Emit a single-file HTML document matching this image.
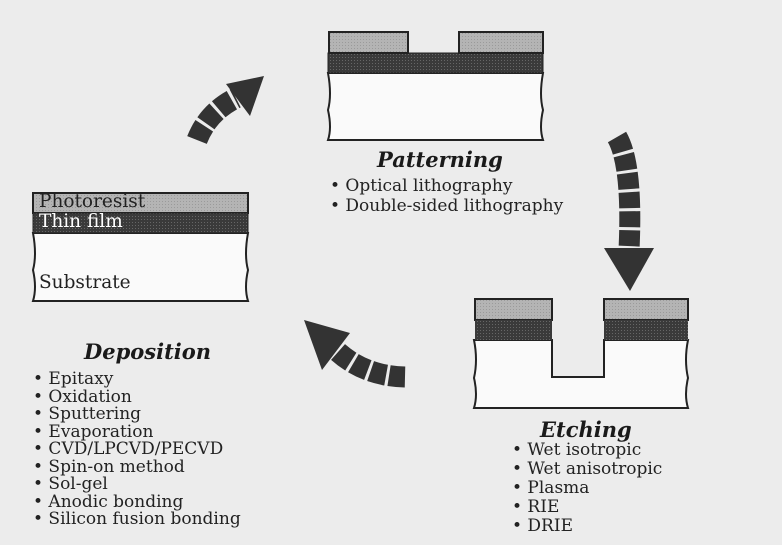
<!DOCTYPE html>
<html><head><style>
body{margin:0;width:782px;height:545px;background:#ececec;overflow:hidden;position:relative;font-family:"DejaVu Serif",serif;color:#222}
.t{position:absolute;white-space:nowrap}
.h{font-weight:bold;font-style:italic;font-size:21px;color:#1a1a1a}
.l{font-size:17px;line-height:17.5px}
</style></head><body>
<svg width="782" height="545" style="position:absolute;left:0;top:0">
<defs>
<pattern id="g" width="3" height="3" patternUnits="userSpaceOnUse"><rect width="3" height="3" fill="#b4b4b4"/><rect width="1" height="1" fill="#9a9a9a"/></pattern>
<pattern id="d" width="3" height="3" patternUnits="userSpaceOnUse"><rect width="3" height="3" fill="#3a3a3a"/><rect width="1" height="1" fill="#666"/></pattern>
</defs>
<path d="M33,233 L248,233 Q244,255 248,270 Q244,288 248,301 L33,301 Q37,288 33,270 Q37,255 33,233Z" fill="#fafafa" stroke="#222" stroke-width="2"/>
<rect x="33" y="193" width="215" height="20" fill="url(#g)" stroke="#222" stroke-width="2"/>
<rect x="33" y="213" width="215" height="20" fill="url(#d)" stroke="#222" stroke-width="1"/>
<path d="M328,73 L543,73 Q539,95 543,110 Q539,128 543,140 L328,140 Q332,128 328,110 Q332,95 328,73Z" fill="#fafafa" stroke="#222" stroke-width="2"/>
<rect x="328" y="53" width="215" height="20" fill="url(#d)" stroke="#222" stroke-width="1"/>
<rect x="329" y="32" width="79" height="21" fill="url(#g)" stroke="#222" stroke-width="2"/>
<rect x="459" y="32" width="84" height="21" fill="url(#g)" stroke="#222" stroke-width="2"/>
<path d="M474,340 L552,340 L552,377 L604,377 L604,340 L688,340 Q684,360 688,378 Q684,395 688,408 L474,408 Q478,395 474,378 Q478,360 474,340Z" fill="#fafafa" stroke="#222" stroke-width="2"/>
<rect x="475" y="299" width="77" height="21" fill="url(#g)" stroke="#222" stroke-width="2"/>
<rect x="475" y="320" width="77" height="20" fill="url(#d)"/>
<rect x="604" y="299" width="84" height="21" fill="url(#g)" stroke="#222" stroke-width="2"/>
<rect x="604" y="320" width="84" height="20" fill="url(#d)"/>
<g fill="none" stroke="#333" stroke-width="21" stroke-dasharray="16,3">
<path d="M197,140 Q208,112 236,98"/>
<path d="M617,137 Q633,165 629,250"/>
<path d="M405,377 Q365,376 338,352"/>
</g>
<polygon points="226,84 264,76 250,116" fill="#333"/>
<polygon points="604,248 654,248 630,291" fill="#333"/>
<polygon points="304,320 350,333 322,370" fill="#333"/>
</svg>
<div class="t" style="left:39px;top:191px;font-size:18.5px;color:#222">Photoresist</div>
<div class="t" style="left:39px;top:211px;font-size:18.5px;color:#fff">Thin film</div>
<div class="t" style="left:39px;top:272px;font-size:18.5px">Substrate</div>
<div class="t h" style="left:84px;top:339px">Deposition</div>
<div class="t l" style="left:33px;top:371px">• Epitaxy<br>• Oxidation<br>• Sputtering<br>• Evaporation<br>• CVD/LPCVD/PECVD<br>• Spin-on method<br>• Sol-gel<br>• Anodic bonding<br>• Silicon fusion bonding</div>
<div class="t h" style="left:377px;top:147px">Patterning</div>
<div class="t l" style="left:330px;top:176px;line-height:20px">• Optical lithography<br>• Double-sided lithography</div>
<div class="t h" style="left:540px;top:417px">Etching</div>
<div class="t l" style="left:512px;top:441px;line-height:19px">• Wet isotropic<br>• Wet anisotropic<br>• Plasma<br>• RIE<br>• DRIE</div>
</body></html>
